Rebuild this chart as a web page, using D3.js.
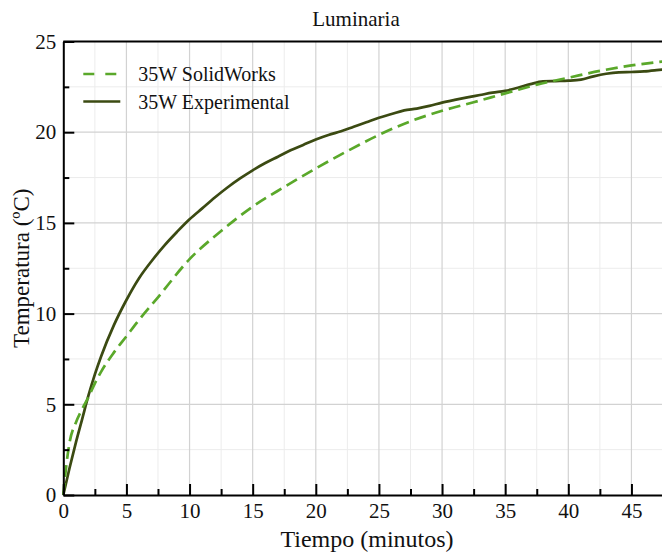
<!DOCTYPE html>
<html>
<head>
<meta charset="utf-8">
<script src="https://cdn.jsdelivr.net/npm/d3@7"></script>
<style>
  body { margin: 0; background: #fff; }
  svg { display: block; font-family: "Liberation Serif", "DejaVu Serif", serif; }
</style>
</head>
<body>
<div id="chart"></div>
<script>
// 35W SolidWorks (simulation)
const tiempoSW = [0, 0.25, 0.5, 1, 1.5, 2, 2.5, 3, 4, 5, 6, 7.5, 10, 12.5, 15, 17.5, 20, 22.5, 25, 27.5, 30, 32.5, 35, 37.5, 40, 42.5, 45, 47.5]
const tempSW = [0, 1.7, 2.9, 4.0, 4.75, 5.4, 6.15, 6.8, 7.85, 8.75, 9.65, 10.9, 13.0, 14.55, 15.9, 16.98, 18.0, 18.96, 19.85, 20.6, 21.18, 21.65, 22.14, 22.62, 23.0, 23.38, 23.68, 23.9]

// 35W Experimental (measured)
const tiempoExp = [0, 0.5, 1, 1.5, 2, 2.5, 3, 4, 5, 6, 7, 8, 9, 10, 11, 12, 13, 14, 15, 16, 17, 18, 19, 20, 21, 22, 23, 24, 25, 26, 27, 28, 29, 30, 31, 32, 33, 34, 35, 36, 37, 38, 39, 40, 41, 42, 43, 44, 45, 46, 47, 47.5]
const tempExp = [0, 1.5, 2.9, 4.2, 5.5, 6.65, 7.65, 9.35, 10.75, 11.95, 12.9, 13.75, 14.5, 15.2, 15.8, 16.4, 16.95, 17.45, 17.9, 18.3, 18.65, 19.0, 19.3, 19.6, 19.85, 20.05, 20.3, 20.55, 20.8, 21.0, 21.2, 21.3, 21.45, 21.63, 21.78, 21.92, 22.05, 22.18, 22.28, 22.45, 22.65, 22.8, 22.82, 22.84, 22.9, 23.08, 23.22, 23.3, 23.32, 23.35, 23.42, 23.46]

const xTicks = [0, 5, 10, 15, 20, 25, 30, 35, 40, 45]
const xMinor = [2.5, 7.5, 12.5, 17.5, 22.5, 27.5, 32.5, 37.5, 42.5, 47.5]
const yTicks = [0, 5, 10, 15, 20, 25]
const yMinor = [2.5, 7.5, 12.5, 17.5, 22.5]

const width = 662
const height = 552
const padding = { top: 41.5, right: -1, bottom: 57, left: 63.3 }

const innerWidth = width - padding.left - padding.right
const innerHeight = height - padding.top - padding.bottom

const svg = d3.select('#chart').append('svg')
  .attr('width', width)
  .attr('height', height)

const xScale = d3.scaleLinear().domain([0, 47.5]).range([0, innerWidth])
const yScale = d3.scaleLinear().domain([0, 25]).range([innerHeight, 0])

const plot = svg.append('g')
  .attr('transform', `translate(${ padding.left }, ${ padding.top })`)

// minor grid
plot.append('g').selectAll('line')
  .data(xMinor).join('line')
  .attr('x1', d => xScale(d)).attr('x2', d => xScale(d))
  .attr('y1', 0).attr('y2', innerHeight)
  .attr('stroke', '#ececec').attr('stroke-width', 1)

plot.append('g').selectAll('line')
  .data(yMinor).join('line')
  .attr('x1', 0).attr('x2', innerWidth)
  .attr('y1', d => yScale(d)).attr('y2', d => yScale(d))
  .attr('stroke', '#ececec').attr('stroke-width', 1)

// major grid
plot.append('g').selectAll('line')
  .data(xTicks.slice(1)).join('line')
  .attr('x1', d => xScale(d)).attr('x2', d => xScale(d))
  .attr('y1', 0).attr('y2', innerHeight)
  .attr('stroke', '#d2d2d2').attr('stroke-width', 1.2)

plot.append('g').selectAll('line')
  .data(yTicks.slice(1, -1)).join('line')
  .attr('x1', 0).attr('x2', innerWidth)
  .attr('y1', d => yScale(d)).attr('y2', d => yScale(d))
  .attr('stroke', '#d2d2d2').attr('stroke-width', 1.2)

// lines
const lineSW = d3.line()
  .x((d, i) => xScale(tiempoSW[i]))
  .y(d => yScale(d))
  .curve(d3.curveMonotoneX)

const lineExp = d3.line()
  .x((d, i) => xScale(tiempoExp[i]))
  .y(d => yScale(d))
  .curve(d3.curveMonotoneX)

plot.append('path')
  .datum(tempExp)
  .attr('d', lineExp)
  .attr('fill', 'none')
  .attr('stroke', '#3b4a12')
  .attr('stroke-width', 2.7)

plot.append('path')
  .datum(tempSW)
  .attr('d', lineSW)
  .attr('fill', 'none')
  .attr('stroke', '#5aa82a')
  .attr('stroke-width', 2.7)
  .attr('stroke-dasharray', '12,6')

// axes, ticks pointing inward
const xAxis = plot.append('g')
  .attr('class', 'axis x-axis')
  .attr('transform', `translate(0, ${ innerHeight })`)
  .call(d3.axisBottom(xScale).tickValues(xTicks).tickSizeInner(-11).tickSizeOuter(0).tickPadding(8))

plot.append('g')
  .attr('transform', `translate(0, ${ innerHeight })`)
  .call(d3.axisBottom(xScale).tickValues(xMinor).tickSizeInner(-6).tickSizeOuter(0).tickFormat(''))
  .call(g => g.select('.domain').remove())

const yAxis = plot.append('g')
  .attr('class', 'axis y-axis')
  .call(d3.axisLeft(yScale).tickValues(yTicks).tickSizeInner(-11).tickSizeOuter(0).tickPadding(7))

plot.append('g')
  .call(d3.axisLeft(yScale).tickValues(yMinor).tickSizeInner(-6).tickSizeOuter(0).tickFormat(''))
  .call(g => g.select('.domain').remove())

plot.selectAll('.tick line').attr('stroke', '#000').attr('stroke-width', 2)
plot.selectAll('.domain').attr('stroke', '#000').attr('stroke-width', 2)
plot.selectAll('.tick text')
  .attr('fill', '#111')
  .style('font-family', '"Liberation Serif", serif')
  .style('font-size', '21px')

// top border
plot.append('line')
  .attr('x1', 0).attr('x2', innerWidth)
  .attr('y1', 0).attr('y2', 0)
  .attr('stroke', '#000').attr('stroke-width', 2)

// title and labels
svg.append('text')
  .attr('x', 356).attr('y', 26)
  .attr('text-anchor', 'middle')
  .style('font-size', '21px')
  .attr('fill', '#111')
  .text('Luminaria')

svg.append('text')
  .attr('x', 367).attr('y', 547)
  .attr('text-anchor', 'middle')
  .style('font-size', '24px')
  .attr('fill', '#111')
  .text('Tiempo (minutos)')

svg.append('text')
  .attr('transform', `translate(29, ${ padding.top + innerHeight / 2 }) rotate(-90)`)
  .attr('text-anchor', 'middle')
  .style('font-size', '23px')
  .attr('fill', '#111')
  .text('Temperatura (ºC)')

// legend
const legend = svg.append('g')
  .attr('transform', `translate(${ padding.left + 20 }, 74)`)

const legendItems = [
  { name: '35W SolidWorks', color: '#5aa82a', dash: '11,11' },
  { name: '35W Experimental', color: '#3b4a12', dash: null }
]

legendItems.forEach((item, i) => {
  const row = legend.append('g').attr('transform', `translate(0, ${ i * 27.5 })`)
  row.append('line')
    .attr('x1', 0).attr('x2', 37)
    .attr('y1', 0).attr('y2', 0)
    .attr('stroke', item.color)
    .attr('stroke-width', 2.7)
    .attr('stroke-dasharray', item.dash)
  row.append('text')
    .attr('x', 55).attr('y', 7)
    .style('font-size', '20px')
    .attr('fill', '#111')
    .text(item.name)
})
</script>
</body>
</html>
